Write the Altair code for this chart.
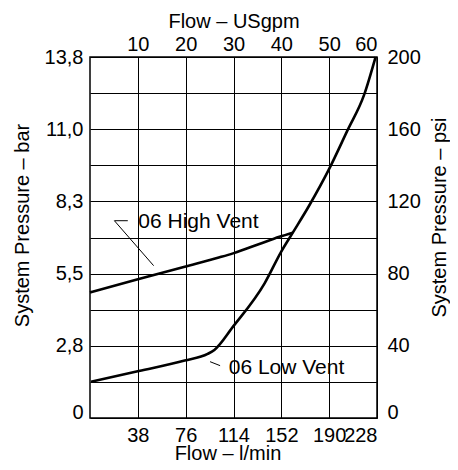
import altair as alt
import pandas as pd

# ---- data (flow in USgpm, pressure in psi) ----
high_gpm = [0.0, 10.2, 19.8, 27.1, 29.9, 35.4, 39.6, 42.4]
high_psi = [69.6, 77.0, 83.8, 89.0, 91.2, 96.4, 100.4, 102.7]

low_gpm = [0.2, 10.2, 19.8, 24.6, 26.0, 29.9, 36.5, 39.9, 42.4, 45.8, 50.0, 53.8, 57.3, 59.7]
low_psi = [20.1, 26.0, 31.8, 35.5, 37.7, 50.6, 74.6, 91.8, 102.7, 117.6, 138.0, 159.2, 179.0, 200.0]

gpm_ticks = [10, 20, 30, 40, 50, 60]
lmin_labels = ["38", "76", "114", "152", "190", "228"]
psi_grid = [0, 20, 40, 60, 80, 100, 120, 140, 160, 180, 200]
psi_ticks = [0, 40, 80, 120, 160, 200]
bar_labels = ["0", "2,8", "5,5", "8,3", "11,0", "13,8"]

# annotation text and leader lines
label_text = ["06 High Vent", "06 Low Vent"]
label_gpm = [10.1, 29.0]
label_psi = [105.3, 24.4]

leader_id = ["h1", "h1", "h2", "h2", "l1", "l1"]
leader_gpm = [5.1, 7.9, 5.1, 13.3, 25.1, 27.2]
leader_psi = [109.3, 109.3, 109.3, 84.4, 31.2, 29.0]

FONT = "Liberation Sans"

curves = pd.DataFrame({
    "gpm": high_gpm + low_gpm,
    "psi": high_psi + low_psi,
    "series": ["06 High Vent"] * len(high_gpm) + ["06 Low Vent"] * len(low_gpm),
    "i": list(range(len(high_gpm))) + list(range(len(low_gpm))),
})
leaders = pd.DataFrame({"gpm": leader_gpm, "psi": leader_psi, "seg": leader_id})
labels = pd.DataFrame({"gpm": label_gpm, "psi": label_psi, "text": label_text})

xs = alt.Scale(domain=[0, 60], nice=False, zero=False)
ys = alt.Scale(domain=[0, 200], nice=False, zero=False)


def lookup_expr(vals, texts):
    parts = [f"datum.value == {v} ? '{t}'" for v, t in zip(vals, texts)]
    return " : ".join(parts) + " : ''"


zero_baseline = {"condition": {"test": "datum.value == 0", "value": "alphabetic"}, "value": "middle"}

bottom_axis = alt.Axis(
    orient="bottom", values=gpm_ticks, grid=True, gridColor="black", gridWidth=1, gridOpacity=1,
    labelExpr=lookup_expr(gpm_ticks, lmin_labels), labelPadding=23, labelBaseline="alphabetic",
    labelOverlap=False,
    title="Flow – l/min", titleX=137.5, titleY=41, titleBaseline="alphabetic", titleAlign="center",
)
left_axis = alt.Axis(
    orient="left", values=psi_grid, grid=True, gridColor="black", gridWidth=1, gridOpacity=1,
    labelExpr=lookup_expr(psi_ticks, bar_labels), labelPadding=7, labelAlign="right",
    labelBaseline=zero_baseline, labelOverlap=False,
    title="System Pressure – bar", titleAngle=270, titleX=-62, titleY=168,
    titleBaseline="alphabetic", titleAlign="center",
)
top_axis = alt.Axis(
    orient="top", values=gpm_ticks, grid=False, labelPadding=7, labelBaseline="alphabetic",
    labelOverlap=False,
    title="Flow – USgpm", titleX=143.5, titleY=-30, titleBaseline="alphabetic", titleAlign="center",
)
right_axis = alt.Axis(
    orient="right", values=psi_ticks, grid=False, labelPadding=10, labelAlign="left",
    labelBaseline=zero_baseline, labelOverlap=False,
    title="System Pressure – psi", titleAngle=270, titleX=68.5, titleY=160,
    titleBaseline="alphabetic", titleAlign="center",
)

lines = alt.Chart(curves).mark_line(
    color="black", strokeWidth=2.6, strokeJoin="round", interpolate="monotone"
).encode(
    x=alt.X("gpm:Q", scale=xs, axis=bottom_axis),
    y=alt.Y("psi:Q", scale=ys, axis=left_axis),
    detail="series:N",
    order="i:Q",
)

leader_lines = alt.Chart(leaders).mark_line(color="black", strokeWidth=1).encode(
    x=alt.X("gpm:Q", scale=xs, axis=top_axis),
    y=alt.Y("psi:Q", scale=ys, axis=right_axis),
    detail="seg:N",
)

texts = alt.Chart(labels).mark_text(
    align="left", baseline="alphabetic", font=FONT, fontSize=21, color="black"
).encode(
    x=alt.X("gpm:Q", scale=xs, axis=None),
    y=alt.Y("psi:Q", scale=ys, axis=None),
    text="text:N",
)

chart = (
    alt.layer(lines, leader_lines, texts)
    .resolve_axis(x="independent", y="independent")
    .properties(
        width=287, height=361,
        autosize=alt.AutoSizeParams(type="none"),
        padding={"left": 82, "top": 49, "right": 73, "bottom": 44},
        background="white",
    )
    .configure_view(stroke="black", strokeWidth=1.5)
    .configure_axis(
        domain=False, ticks=False, tickSize=0,
        labelFont=FONT, labelFontSize=20, labelColor="black",
        titleFont=FONT, titleFontSize=20, titleColor="black", titleFontWeight="normal",
    )
)

chart.save("out.html", embed_options={"renderer": "svg", "actions": False})
